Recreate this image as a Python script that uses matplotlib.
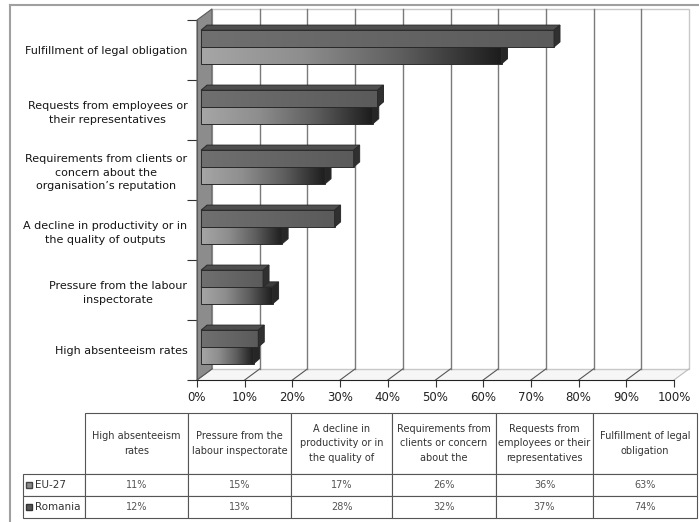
import numpy as np
import matplotlib.pyplot as plt
from matplotlib.patches import Polygon, Rectangle
from matplotlib.lines import Line2D
from matplotlib.table import Table
from matplotlib.colors import LinearSegmentedColormap

# categories from bottom to top of the chart
axis_labels = ['High absenteeism rates',
               'Pressure from the labour\ninspectorate',
               'A decline in productivity or in\nthe quality of outputs',
               'Requirements from clients or\nconcern about the\norganisation\u2019s reputation',
               'Requests from employees or\ntheir representatives',
               'Fulfillment of legal obligation']
table_headers = ['High absenteeism\nrates',
                 'Pressure from the\nlabour inspectorate',
                 'A decline in\nproductivity or in\nthe quality of',
                 'Requirements from\nclients or concern\nabout the',
                 'Requests from\nemployees or their\nrepresentatives',
                 'Fulfillment of legal\nobligation']
series_names = ['EU-27', 'Romania']
eu27 = [11, 15, 17, 26, 36, 63]
romania = [12, 13, 28, 32, 37, 74]
x_ticks = list(range(0, 101, 10))

# depth of the 3d box and of the bars (data units)
DX, DY = 3.15, 0.185
BX, BY = 0.85, 0.05
TX, TY = 1.25, 0.085
BAR_H = 0.28

fig = plt.figure(figsize=(6.99, 5.22), dpi=100)
ax = fig.add_axes([197 / 699, 142 / 522, 477 / 699, 360 / 522])
n = len(axis_labels)

# floor
ax.add_patch(Polygon([(0, 0), (100, 0), (100 + DX, DY), (DX, DY)],
                     fc='#f6f6f6', ec='none', zorder=1, clip_on=False))
for t in x_ticks:
    ax.plot([t, t + DX], [0, DY], color='#555555' if t < 100 else '#bbbbbb',
            lw=0.8, zorder=1.5, clip_on=False)

# back wall with gridlines
ax.add_patch(Rectangle((DX, DY), 100, n, fc='white', ec='#c8c8c8', lw=1,
                       zorder=1, clip_on=False))
for t in x_ticks[1:-1]:
    ax.plot([t + DX] * 2, [DY, n + DY], color='#7a7a7a', lw=1, zorder=1.5, clip_on=False)

# side wall
ax.add_patch(Polygon([(0, 0), (DX, DY), (DX, n + DY), (0, n)],
                     fc='#8c8c8c', ec='#5a5a5a', lw=0.8, zorder=2, clip_on=False))

cm_eu = LinearSegmentedColormap.from_list('eu', ['#a6a6a6', '#8e8e8e', '#5e5e5e', '#1c1c1c'])
cm_ro = LinearSegmentedColormap.from_list('ro', ['#707070', '#5a5a5a'])
grad = np.linspace(0, 1, 256).reshape(1, -1)


def bar3d(y0, v, cmap, top_col, end_col, z):
    x0, x1 = BX, v + BX
    yb, yt = y0 + BY, y0 + BAR_H + BY
    ax.imshow(grad, cmap=cmap, extent=(x0, x1, yb, yt), aspect='auto',
              interpolation='bilinear', zorder=z)
    ax.add_patch(Rectangle((x0, yb), v, BAR_H, fill=False, ec='#2a2a2a', lw=0.7, zorder=z + 0.01))
    ax.add_patch(Polygon([(x0, yt), (x1, yt), (x1 + TX, yt + TY), (x0 + TX, yt + TY)],
                         fc=top_col, ec='#2a2a2a', lw=0.7, zorder=z + 0.01, clip_on=False))
    ax.add_patch(Polygon([(x1, yb), (x1 + TX, yb + TY), (x1 + TX, yt + TY), (x1, yt)],
                         fc=end_col, ec='#2a2a2a', lw=0.7, zorder=z + 0.01, clip_on=False))


for i in range(n):
    c = i + 0.5
    bar3d(c - BAR_H, eu27[i], cm_eu, '#3c3c3c', '#262626', 4 + i * 0.1)
    bar3d(c, romania[i], cm_ro, '#4e4e4e', '#303030', 4.05 + i * 0.1)

ax.set_xlim(0, 100)
ax.set_ylim(0, n)
for s in ['top', 'right']:
    ax.spines[s].set_visible(False)
ax.spines['bottom'].set_color('#222222')
ax.spines['left'].set_color('#5a5a5a')
ax.spines['bottom'].set_zorder(3)

ax.set_xticks(x_ticks)
ax.set_xticklabels([f'{t}%' for t in x_ticks])
ax.tick_params(axis='x', length=5, width=0.8, color='#333333', pad=3,
               labelsize=8.5, labelcolor='#222222')
ax.set_yticks(range(n + 1))
ax.set_yticklabels([])
ax.tick_params(axis='y', which='major', length=7, width=0.8, color='#333333')
ax.set_yticks([i + 0.5 for i in range(n)], minor=True)
ax.set_yticklabels(axis_labels, minor=True)
ax.tick_params(axis='y', which='minor', length=0, pad=7, labelsize=8, labelcolor='#151515')
for lab in ax.get_yticklabels(minor=True):
    lab.set_multialignment('center')
    lab.set_linespacing(1.45)

# data table under the chart
tab = fig.add_axes([23 / 699, 4 / 522, 674 / 699, 105 / 522])
tab.axis('off')
col_w = [62, 103, 103, 101, 104, 97, 104]
row_h = [61, 22, 22]
table = Table(tab, bbox=[0, 0, 1, 1])
rows = [eu27, romania]
for j, head in enumerate(table_headers):
    cell = table.add_cell(0, j + 1, width=col_w[j + 1] / 674, height=row_h[0] / 105,
                          text=head, loc='center')
    cell.get_text().set_linespacing(1.6)
for r, (name, vals) in enumerate(zip(series_names, rows)):
    cell = table.add_cell(r + 1, 0, width=col_w[0] / 674, height=row_h[r + 1] / 105,
                          text=name, loc='left')
    cell.PAD = 0.19
    for j, v in enumerate(vals):
        table.add_cell(r + 1, j + 1, width=col_w[j + 1] / 674, height=row_h[r + 1] / 105,
                       text=f'{v}%', loc='center')
table.auto_set_font_size(False)
table.set_fontsize(7)
for (r, c), cell in table.get_celld().items():
    cell.set_edgecolor('#555555')
    cell.set_linewidth(0.8)
    cell.get_text().set_color('#333333' if r == 0 or c == 0 else '#555555')
    if c == 0:
        cell.get_text().set_fontsize(7.5)
tab.add_table(table)

# legend keys in the row labels
tab.plot([0.0096], [0.314], marker='s', ms=4.5, mfc='#8a8a8a', mec='#444444',
         transform=tab.transAxes, clip_on=False)
tab.plot([0.0096], [0.105], marker='s', ms=4.5, mfc='#555555', mec='#333333',
         transform=tab.transAxes, clip_on=False)

# outer frame
fig.add_artist(Line2D([10 / 699, 1], [1 - 5 / 522] * 2, color='#a0a0a0', lw=1.5))
fig.add_artist(Line2D([10 / 699] * 2, [0, 1 - 5 / 522], color='#a0a0a0', lw=1.5))

fig.savefig('out.png', dpi=100)
